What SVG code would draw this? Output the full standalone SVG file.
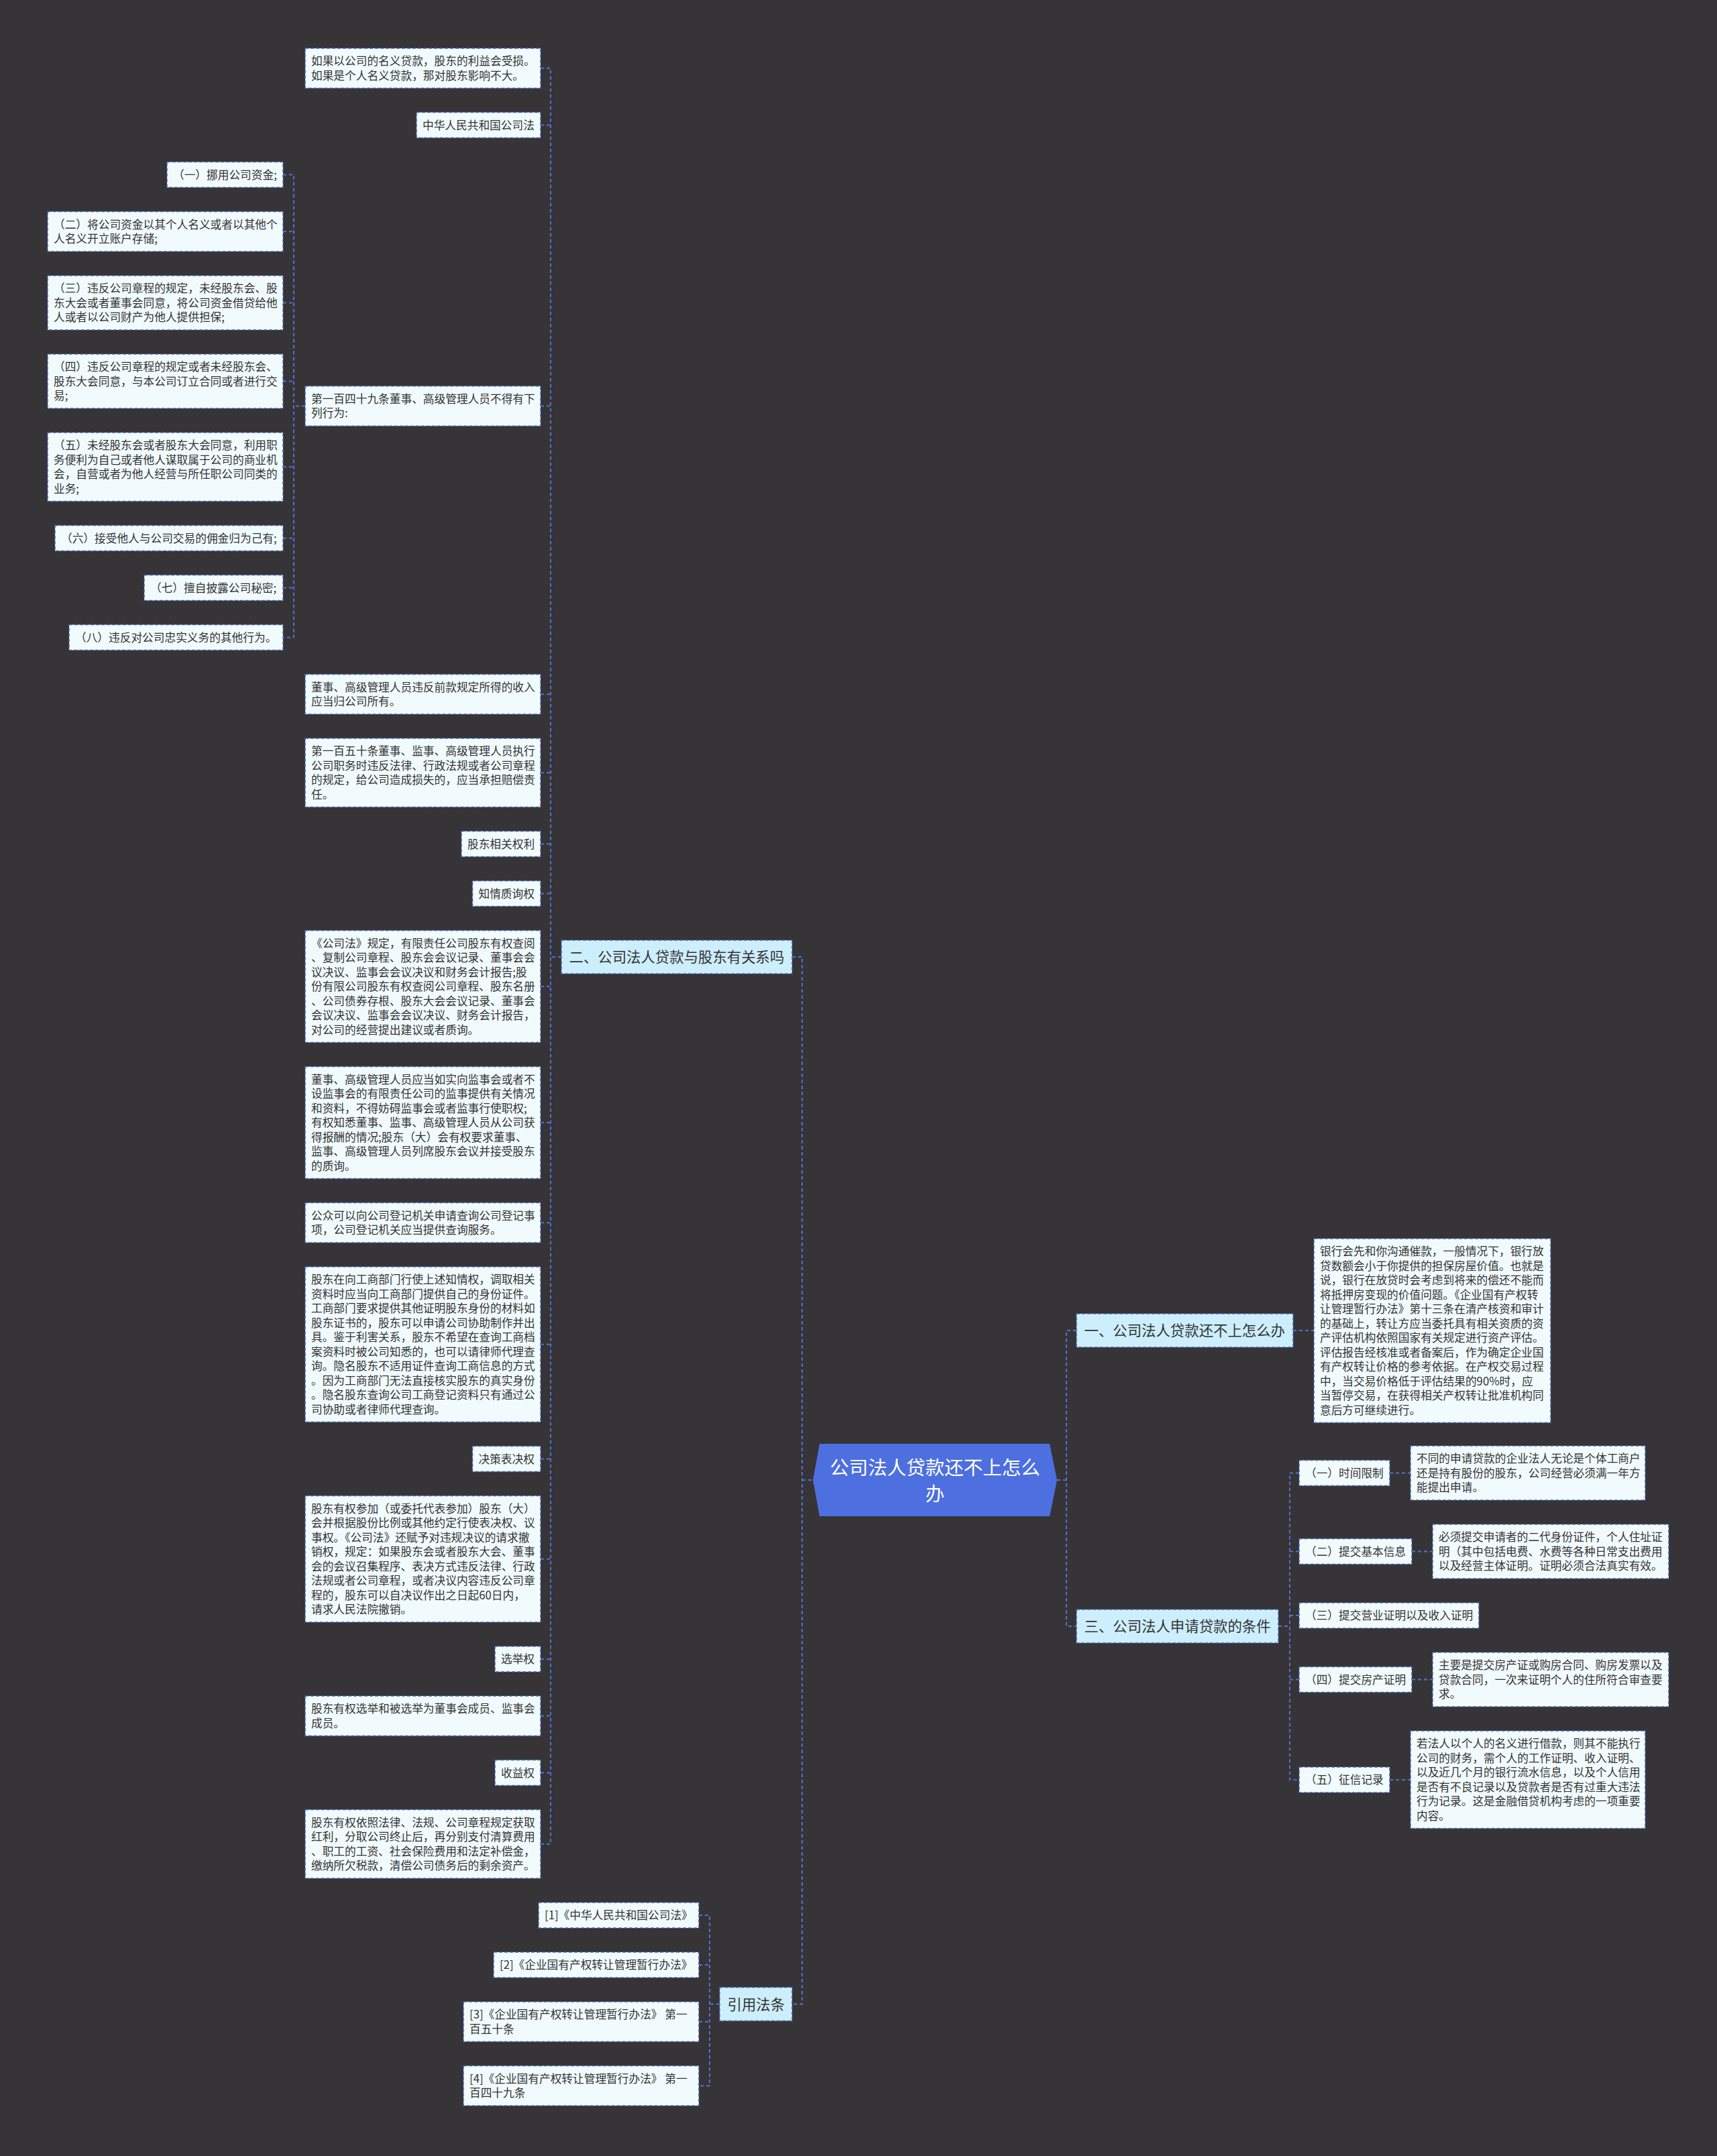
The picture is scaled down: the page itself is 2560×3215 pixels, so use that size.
<svg xmlns="http://www.w3.org/2000/svg" width="2560" height="3215" viewBox="0 0 2560 3215">
<style>
.leaf{fill:#f1fbfe;stroke:#4561b0;stroke-width:1.5;stroke-dasharray:5 3}
.br{fill:#cdeefc;stroke:#4561b0;stroke-width:1.5;stroke-dasharray:5 3}
.t{font-family:"Noto Sans CJK SC","Noto Sans",sans-serif;font-size:16.7px;fill:#333333}
.tb{font-family:"Noto Sans CJK SC","Noto Sans",sans-serif;font-size:21.4px;fill:#333333}
.tr{font-family:"Noto Sans CJK SC","Noto Sans",sans-serif;font-size:28.5px;fill:#ffffff;text-anchor:middle}
.c{fill:none;stroke:#5270d6;stroke-width:2;stroke-dasharray:5 4}
</style>
<rect width="2560" height="3215" fill="#363437"/>
<g id="connectors">
<path class="c" d="M1181 1427H1196V2988.5H1181M1196 2207H1212"/>
<path class="c" d="M1576 2207H1590M1605 1984H1590V2425H1605"/>
<path class="c" d="M837 1427H821M806 101.75H821V2749.75H806M806 186.5H821M806 605.5H821M806 1035.25H821M806 1152.25H821M806 1258.5H821M806 1332.5H821M806 1471H821M806 1674H821M806 1823.25H821M806 2004.75H821M806 2175.5H821M806 2324.75H821M806 2474H821M806 2558.75H821M806 2643.5H821"/>
<path class="c" d="M455 605.5H438M422 260.5H438V950.5H422M422 345.25H438M422 451.5H438M422 568.5H438M422 696.25H438M422 802.5H438M422 876.5H438"/>
<path class="c" d="M1073 2988.5H1058M1042 2856H1058V3110.25H1042M1042 2930H1058M1042 3014.75H1058"/>
<path class="c" d="M1928 1984H1959"/>
<path class="c" d="M1906 2425H1923M1937 2196.5H1923V2654H1937M1923 2313.5H1937M1923 2409H1937M1923 2504.5H1937"/>
<path class="c" d="M2072 2196.5H2103M2105 2313.5H2136M2105 2504.5H2136M2072 2654H2103"/>
</g>
<g id="root">
<polygon points="1222,2153 1565,2153 1576,2207 1565,2261 1222,2261 1212,2207" fill="#4d6fdf"/>
<text class="tr"><tspan x="1394" y="2199">公司法人贷款还不上怎么</tspan><tspan x="1394" y="2238">办</tspan></text>
</g>
<g id="branch2">
<rect class="br" x="837" y="1402" width="344" height="50"/>
<text class="tb" x="848.5" y="1435">二、公司法人贷款与股东有关系吗</text>
</g>
<g id="n-b1"><rect class="leaf" x="455" y="72" width="351" height="59.5"/><text class="t"><tspan x="464" y="97">如果以公司的名义贷款，股东的利益会受损。</tspan><tspan x="464" y="118.5">如果是个人名义贷款，那对股东影响不大。</tspan></text></g>
<g id="n-b2"><rect class="leaf" x="621" y="167.5" width="185" height="38"/><text class="t" x="630" y="192.5">中华人民共和国公司法</text></g>
<g id="n-b3"><rect class="leaf" x="455" y="575.75" width="351" height="59.5"/><text class="t"><tspan x="464" y="600.75">第一百四十九条董事、高级管理人员不得有下</tspan><tspan x="464" y="622.25">列行为:</tspan></text></g>
<g id="n-s1"><rect class="leaf" x="249" y="241.5" width="173" height="38"/><text class="t" x="258" y="266.5">（一）挪用公司资金;</text></g>
<g id="n-s2"><rect class="leaf" x="71" y="315.5" width="351" height="59.5"/><text class="t"><tspan x="80" y="340.5">（二）将公司资金以其个人名义或者以其他个</tspan><tspan x="80" y="362">人名义开立账户存储;</tspan></text></g>
<g id="n-s3"><rect class="leaf" x="71" y="411" width="351" height="81"/><text class="t"><tspan x="80" y="436">（三）违反公司章程的规定，未经股东会、股</tspan><tspan x="80" y="457.5">东大会或者董事会同意，将公司资金借贷给他</tspan><tspan x="80" y="479">人或者以公司财产为他人提供担保;</tspan></text></g>
<g id="n-s4"><rect class="leaf" x="71" y="528" width="351" height="81"/><text class="t"><tspan x="80" y="553">（四）违反公司章程的规定或者未经股东会、</tspan><tspan x="80" y="574.5">股东大会同意，与本公司订立合同或者进行交</tspan><tspan x="80" y="596">易;</tspan></text></g>
<g id="n-s5"><rect class="leaf" x="71" y="645" width="351" height="102.5"/><text class="t"><tspan x="80" y="670">（五）未经股东会或者股东大会同意，利用职</tspan><tspan x="80" y="691.5">务便利为自己或者他人谋取属于公司的商业机</tspan><tspan x="80" y="713">会，自营或者为他人经营与所任职公司同类的</tspan><tspan x="80" y="734.5">业务;</tspan></text></g>
<g id="n-s6"><rect class="leaf" x="82" y="783.5" width="340" height="38"/><text class="t" x="91" y="808.5">（六）接受他人与公司交易的佣金归为己有;</text></g>
<g id="n-s7"><rect class="leaf" x="215" y="857.5" width="207" height="38"/><text class="t" x="224" y="882.5">（七）擅自披露公司秘密;</text></g>
<g id="n-s8"><rect class="leaf" x="103" y="931.5" width="319" height="38"/><text class="t" x="112" y="956.5">（八）违反对公司忠实义务的其他行为。</text></g>
<g id="n-b4"><rect class="leaf" x="455" y="1005.5" width="351" height="59.5"/><text class="t"><tspan x="464" y="1030.5">董事、高级管理人员违反前款规定所得的收入</tspan><tspan x="464" y="1052">应当归公司所有。</tspan></text></g>
<g id="n-b5"><rect class="leaf" x="455" y="1101" width="351" height="102.5"/><text class="t"><tspan x="464" y="1126">第一百五十条董事、监事、高级管理人员执行</tspan><tspan x="464" y="1147.5">公司职务时违反法律、行政法规或者公司章程</tspan><tspan x="464" y="1169">的规定，给公司造成损失的，应当承担赔偿责</tspan><tspan x="464" y="1190.5">任。</tspan></text></g>
<g id="n-b6"><rect class="leaf" x="688" y="1239.5" width="118" height="38"/><text class="t" x="697" y="1264.5">股东相关权利</text></g>
<g id="n-b7"><rect class="leaf" x="704.5" y="1313.5" width="101.5" height="38"/><text class="t" x="713.5" y="1338.5">知情质询权</text></g>
<g id="n-b8"><rect class="leaf" x="455" y="1387.5" width="351" height="167"/><text class="t"><tspan x="464" y="1412.5">《公司法》规定，有限责任公司股东有权查阅</tspan><tspan x="464" y="1434">、复制公司章程、股东会会议记录、董事会会</tspan><tspan x="464" y="1455.5">议决议、监事会会议决议和财务会计报告;股</tspan><tspan x="464" y="1477">份有限公司股东有权查阅公司章程、股东名册</tspan><tspan x="464" y="1498.5">、公司债券存根、股东大会会议记录、董事会</tspan><tspan x="464" y="1520">会议决议、监事会会议决议、财务会计报告，</tspan><tspan x="464" y="1541.5">对公司的经营提出建议或者质询。</tspan></text></g>
<g id="n-b9"><rect class="leaf" x="455" y="1590.5" width="351" height="167"/><text class="t"><tspan x="464" y="1615.5">董事、高级管理人员应当如实向监事会或者不</tspan><tspan x="464" y="1637">设监事会的有限责任公司的监事提供有关情况</tspan><tspan x="464" y="1658.5">和资料，不得妨碍监事会或者监事行使职权;</tspan><tspan x="464" y="1680">有权知悉董事、监事、高级管理人员从公司获</tspan><tspan x="464" y="1701.5">得报酬的情况;股东（大）会有权要求董事、</tspan><tspan x="464" y="1723">监事、高级管理人员列席股东会议并接受股东</tspan><tspan x="464" y="1744.5">的质询。</tspan></text></g>
<g id="n-b10"><rect class="leaf" x="455" y="1793.5" width="351" height="59.5"/><text class="t"><tspan x="464" y="1818.5">公众可以向公司登记机关申请查询公司登记事</tspan><tspan x="464" y="1840">项，公司登记机关应当提供查询服务。</tspan></text></g>
<g id="n-b11"><rect class="leaf" x="455" y="1889" width="351" height="231.5"/><text class="t"><tspan x="464" y="1914">股东在向工商部门行使上述知情权，调取相关</tspan><tspan x="464" y="1935.5">资料时应当向工商部门提供自己的身份证件。</tspan><tspan x="464" y="1957">工商部门要求提供其他证明股东身份的材料如</tspan><tspan x="464" y="1978.5">股东证书的，股东可以申请公司协助制作并出</tspan><tspan x="464" y="2000">具。鉴于利害关系，股东不希望在查询工商档</tspan><tspan x="464" y="2021.5">案资料时被公司知悉的，也可以请律师代理查</tspan><tspan x="464" y="2043">询。隐名股东不适用证件查询工商信息的方式</tspan><tspan x="464" y="2064.5">。因为工商部门无法直接核实股东的真实身份</tspan><tspan x="464" y="2086">。隐名股东查询公司工商登记资料只有通过公</tspan><tspan x="464" y="2107.5">司协助或者律师代理查询。</tspan></text></g>
<g id="n-b12"><rect class="leaf" x="704.5" y="2156.5" width="101.5" height="38"/><text class="t" x="713.5" y="2181.5">决策表决权</text></g>
<g id="n-b13"><rect class="leaf" x="455" y="2230.5" width="351" height="188.5"/><text class="t"><tspan x="464" y="2255.5">股东有权参加（或委托代表参加）股东（大）</tspan><tspan x="464" y="2277">会并根据股份比例或其他约定行使表决权、议</tspan><tspan x="464" y="2298.5">事权。《公司法》还赋予对违规决议的请求撤</tspan><tspan x="464" y="2320">销权，规定：如果股东会或者股东大会、董事</tspan><tspan x="464" y="2341.5">会的会议召集程序、表决方式违反法律、行政</tspan><tspan x="464" y="2363">法规或者公司章程，或者决议内容违反公司章</tspan><tspan x="464" y="2384.5">程的，股东可以自决议作出之日起60日内，</tspan><tspan x="464" y="2406">请求人民法院撤销。</tspan></text></g>
<g id="n-b14"><rect class="leaf" x="738" y="2455" width="68" height="38"/><text class="t" x="747" y="2480">选举权</text></g>
<g id="n-b15"><rect class="leaf" x="455" y="2529" width="351" height="59.5"/><text class="t"><tspan x="464" y="2554">股东有权选举和被选举为董事会成员、监事会</tspan><tspan x="464" y="2575.5">成员。</tspan></text></g>
<g id="n-b16"><rect class="leaf" x="738" y="2624.5" width="68" height="38"/><text class="t" x="747" y="2649.5">收益权</text></g>
<g id="n-b17"><rect class="leaf" x="455" y="2698.5" width="351" height="102.5"/><text class="t"><tspan x="464" y="2723.5">股东有权依照法律、法规、公司章程规定获取</tspan><tspan x="464" y="2745">红利，分取公司终止后，再分别支付清算费用</tspan><tspan x="464" y="2766.5">、职工的工资、社会保险费用和法定补偿金，</tspan><tspan x="464" y="2788">缴纳所欠税款，清偿公司债务后的剩余资产。</tspan></text></g>
<g id="branch-ref"><rect class="br" x="1073" y="2963.5" width="108" height="50"/><text class="tb" x="1084.5" y="2996.5">引用法条</text></g>
<g id="n-r1"><rect class="leaf" x="803" y="2837" width="239" height="38"/><text class="t" x="812" y="2862">[1]《中华人民共和国公司法》</text></g>
<g id="n-r2"><rect class="leaf" x="736" y="2911" width="306" height="38"/><text class="t" x="745" y="2936">[2]《企业国有产权转让管理暂行办法》</text></g>
<g id="n-r3"><rect class="leaf" x="691" y="2985" width="351" height="59.5"/><text class="t"><tspan x="700" y="3010">[3]《企业国有产权转让管理暂行办法》 第一</tspan><tspan x="700" y="3031.5">百五十条</tspan></text></g>
<g id="n-r4"><rect class="leaf" x="691" y="3080.5" width="351" height="59.5"/><text class="t"><tspan x="700" y="3105.5">[4]《企业国有产权转让管理暂行办法》 第一</tspan><tspan x="700" y="3127">百四十九条</tspan></text></g>
<g id="branch1"><rect class="br" x="1605" y="1959" width="323" height="50"/><text class="tb" x="1616.5" y="1992">一、公司法人贷款还不上怎么办</text></g>
<g id="n-a1"><rect class="leaf" x="1959" y="1847" width="353" height="274.5"/><text class="t"><tspan x="1968" y="1872">银行会先和你沟通催款，一般情况下，银行放</tspan><tspan x="1968" y="1893.5">贷数额会小于你提供的担保房屋价值。也就是</tspan><tspan x="1968" y="1915">说，银行在放贷时会考虑到将来的偿还不能而</tspan><tspan x="1968" y="1936.5">将抵押房变现的价值问题。《企业国有产权转</tspan><tspan x="1968" y="1958">让管理暂行办法》第十三条在清产核资和审计</tspan><tspan x="1968" y="1979.5">的基础上，转让方应当委托具有相关资质的资</tspan><tspan x="1968" y="2001">产评估机构依照国家有关规定进行资产评估。</tspan><tspan x="1968" y="2022.5">评估报告经核准或者备案后，作为确定企业国</tspan><tspan x="1968" y="2044">有产权转让价格的参考依据。在产权交易过程</tspan><tspan x="1968" y="2065.5">中，当交易价格低于评估结果的90%时，应</tspan><tspan x="1968" y="2087">当暂停交易，在获得相关产权转让批准机构同</tspan><tspan x="1968" y="2108.5">意后方可继续进行。</tspan></text></g>
<g id="branch3"><rect class="br" x="1605" y="2400" width="301" height="50"/><text class="tb" x="1616.5" y="2433">三、公司法人申请贷款的条件</text></g>
<g id="n-l1"><rect class="leaf" x="1937" y="2177.5" width="135" height="38"/><text class="t" x="1946" y="2202.5">（一）时间限制</text></g>
<g id="n-l2"><rect class="leaf" x="1937" y="2294.5" width="168" height="38"/><text class="t" x="1946" y="2319.5">（二）提交基本信息</text></g>
<g id="n-l3"><rect class="leaf" x="1937" y="2390" width="268" height="38"/><text class="t" x="1946" y="2415">（三）提交营业证明以及收入证明</text></g>
<g id="n-l4"><rect class="leaf" x="1937" y="2485.5" width="168" height="38"/><text class="t" x="1946" y="2510.5">（四）提交房产证明</text></g>
<g id="n-l5"><rect class="leaf" x="1937" y="2635" width="135" height="38"/><text class="t" x="1946" y="2660">（五）征信记录</text></g>
<g id="n-t1"><rect class="leaf" x="2103" y="2156" width="350" height="81"/><text class="t"><tspan x="2112" y="2181">不同的申请贷款的企业法人无论是个体工商户</tspan><tspan x="2112" y="2202.5">还是持有股份的股东，公司经营必须满一年方</tspan><tspan x="2112" y="2224">能提出申请。</tspan></text></g>
<g id="n-t2"><rect class="leaf" x="2136" y="2273" width="352" height="81"/><text class="t"><tspan x="2145" y="2298">必须提交申请者的二代身份证件，个人住址证</tspan><tspan x="2145" y="2319.5">明（其中包括电费、水费等各种日常支出费用</tspan><tspan x="2145" y="2341">以及经营主体证明。证明必须合法真实有效。</tspan></text></g>
<g id="n-t4"><rect class="leaf" x="2136" y="2464" width="352" height="81"/><text class="t"><tspan x="2145" y="2489">主要是提交房产证或购房合同、购房发票以及</tspan><tspan x="2145" y="2510.5">贷款合同，一次来证明个人的住所符合审查要</tspan><tspan x="2145" y="2532">求。</tspan></text></g>
<g id="n-t5"><rect class="leaf" x="2103" y="2581" width="350" height="145.5"/><text class="t"><tspan x="2112" y="2606">若法人以个人的名义进行借款，则其不能执行</tspan><tspan x="2112" y="2627.5">公司的财务，需个人的工作证明、收入证明、</tspan><tspan x="2112" y="2649">以及近几个月的银行流水信息，以及个人信用</tspan><tspan x="2112" y="2670.5">是否有不良记录以及贷款者是否有过重大违法</tspan><tspan x="2112" y="2692">行为记录。这是金融借贷机构考虑的一项重要</tspan><tspan x="2112" y="2713.5">内容。</tspan></text></g>
</svg>
